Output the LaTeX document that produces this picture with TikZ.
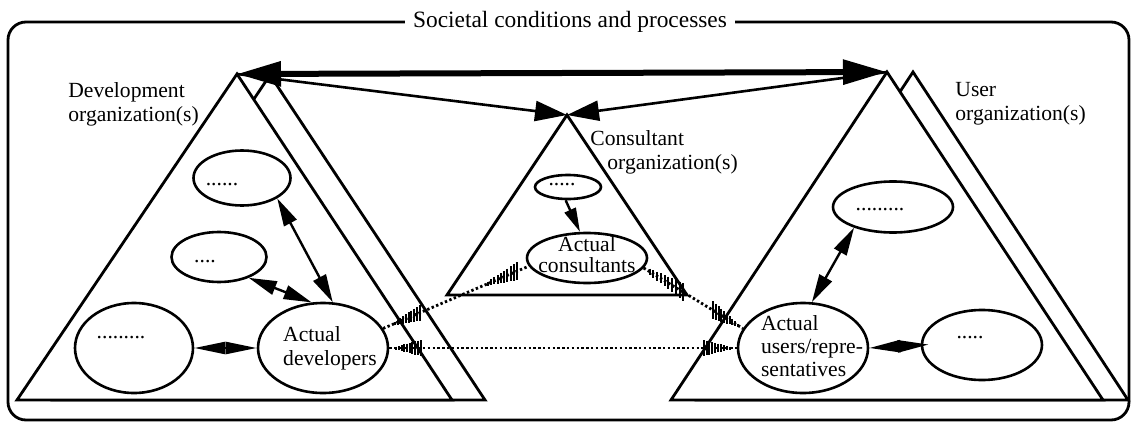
\documentclass[tikz,border=0pt]{standalone}
\usepackage{fontspec}
\setmainfont{Liberation Serif}
\usetikzlibrary{positioning, arrows.meta, shapes.geometric, calc}

% short vertical hatch marks along a stretch of a link
\newcommand{\hatchrun}[6]{%
  \foreach \k in {0,...,9}{%
    \pgfmathsetmacro{\hpos}{#3+(#4-#3)*\k/9}%
    \pgfmathsetmacro{\hlen}{#5+(#6-#5)*\k/9}%
    \draw[line width=1pt] ($(#1)!\hpos!(#2)$) ++(0,-\hlen) -- ++(0,{2*\hlen});
  }}

\begin{document}
\begin{tikzpicture}[x=0.5pt, y=-0.5pt, font=\fontsize{10.8}{12}\selectfont, >=Triangle,
    tri/.style={draw, line width=1.4pt, fill=white},
    blob/.style={ellipse, draw, line width=1.3pt, fill=white, inner sep=0pt},
    txt/.style={align=left, inner sep=0pt},
    link/.style={line width=1.4pt, dash pattern=on 1.2pt off 1.2pt},
    twoway/.style={line width=1.2pt, {Triangle[length=14pt, width=7pt]}-{Triangle[length=14pt, width=7pt]}},
    lens/.style={line width=1.2pt, {Triangle[length=15.5pt, width=6pt]}-{Triangle[length=15.5pt, width=6pt]}}]
  \useasboundingbox (0,0) rectangle (1131,423);

  % society
  \draw[line width=1.4pt, rounded corners=9pt] (8,22) rectangle (1129,420);
  \node[fill=white, inner xsep=4pt, font=\fontsize{11.7}{13}\selectfont] (soc) at (570,22) {Societal conditions and processes};

  % organizations
  \draw[tri] (270,75) -- (485,400) -- (53,400) -- cycle;
  \draw[tri] (237,74) -- (452,400) -- (17,400) -- cycle;
  \draw[tri] (913,72) -- (1128,400) -- (697,400) -- cycle;
  \draw[tri] (887,72) -- (1103,400) -- (671,400) -- cycle;
  \draw[tri] (567,115) -- (687,295) -- (447,295) -- cycle;
  \coordinate (devtop) at (237,74);
  \coordinate (usrtop) at (887,72);
  \coordinate (constop) at (567,115);

  \node[txt, anchor=north west] (devlbl) at (68,82) {Development\\organization(s)};
  \node[txt, anchor=north west] (usrlbl) at (955,82) {User\\organization(s)};
  \node[txt, anchor=north west] (conslbl) at (590,130) {Consultant\\\hspace*{8.5pt}organization(s)};

  % development side
  \node[blob, minimum width=48.5pt, minimum height=27.5pt,
        label={[xshift=-10pt, yshift=-3.5pt]center:......}] (dorg1) at (242,178) {};
  \node[blob, minimum width=47.5pt, minimum height=25pt,
        label={[xshift=-7pt, yshift=-2.5pt]center:....}] (dorg2) at (219,257) {};
  \node[blob, minimum width=59pt, minimum height=45pt,
        label={[xshift=-6.5pt, yshift=5pt]center:.........}] (dorg3) at (134,348) {};
  \node[blob, minimum width=65pt, minimum height=45pt,
        label={[txt, xshift=3.5pt]center:Actual\\developers}] (dev) at (323,348) {};

  % consultant side
  \node[blob, minimum width=33pt, minimum height=12pt,
        label={[xshift=-3pt, yshift=1pt]center:.....}] (corg) at (568,187) {};
  \node[blob, minimum width=60pt, minimum height=25pt,
        label={[align=center, inner sep=0pt, yshift=1.5pt, font=\fontsize{10.8}{10.5}\selectfont]center:Actual\\consultants}] (cons) at (587,258) {};

  % user side
  \node[blob, minimum width=60pt, minimum height=25.5pt,
        label={[xshift=-6.5pt, yshift=-1.5pt]center:.........}] (uorg1) at (893,207) {};
  \node[blob, minimum width=65pt, minimum height=45pt,
        label={[txt, xshift=4.5pt, yshift=1pt, font=\fontsize{10.8}{11.5}\selectfont]center:Actual\\users/repre-\\sentatives}] (usr) at (803,348) {};
  \node[blob, minimum width=60pt, minimum height=35pt,
        label={[xshift=-6pt, yshift=3.5pt]center:.....}] (uorg2) at (982,345) {};

  % links between the actual participants
  \draw[link] (dev.east) -- (usr.west);
  \draw[link] (dev.18) -- (cons.188);
  \draw[link] (cons.-10) -- (usr.162);
  \hatchrun{dev.east}{usr.west}{0.02}{0.09}{1.5}{8}
  \hatchrun{dev.east}{usr.west}{0.905}{0.98}{8}{1.5}
  \hatchrun{dev.18}{cons.188}{0.08}{0.25}{1.5}{8}
  \hatchrun{dev.18}{cons.188}{0.72}{0.92}{2}{9}
  \hatchrun{cons.-10}{usr.162}{0.06}{0.4}{3}{9}
  \hatchrun{cons.-10}{usr.162}{0.7}{0.95}{9}{1.5}

  % relations inside the organizations
  \draw[twoway] (dorg1.-30) -- (dev.78);
  \draw[twoway] (dorg2.-35) -- (dev.104);
  \draw[lens] (dorg3.east) -- (dev.west);
  \draw[line width=1.2pt, -{Triangle[length=12pt, width=6pt]}] (corg.-100) -- (cons.105);
  \draw[twoway] (uorg1.208) -- (usr.79);
  \draw[lens, shorten >=-4pt] (usr.east) -- (uorg2.west);

  % relations between the organizations
  \draw[line width=3pt, {Triangle[length=22pt, width=12pt]}-{Triangle[length=22pt, width=12pt]}] (devtop) -- (usrtop);
  \draw[line width=1.3pt, -{Triangle[length=16pt, width=10pt]}] (devtop) -- (constop);
  \draw[line width=1.3pt, -{Triangle[length=16pt, width=10pt]}] (usrtop) -- (constop);
\end{tikzpicture}
\end{document}
